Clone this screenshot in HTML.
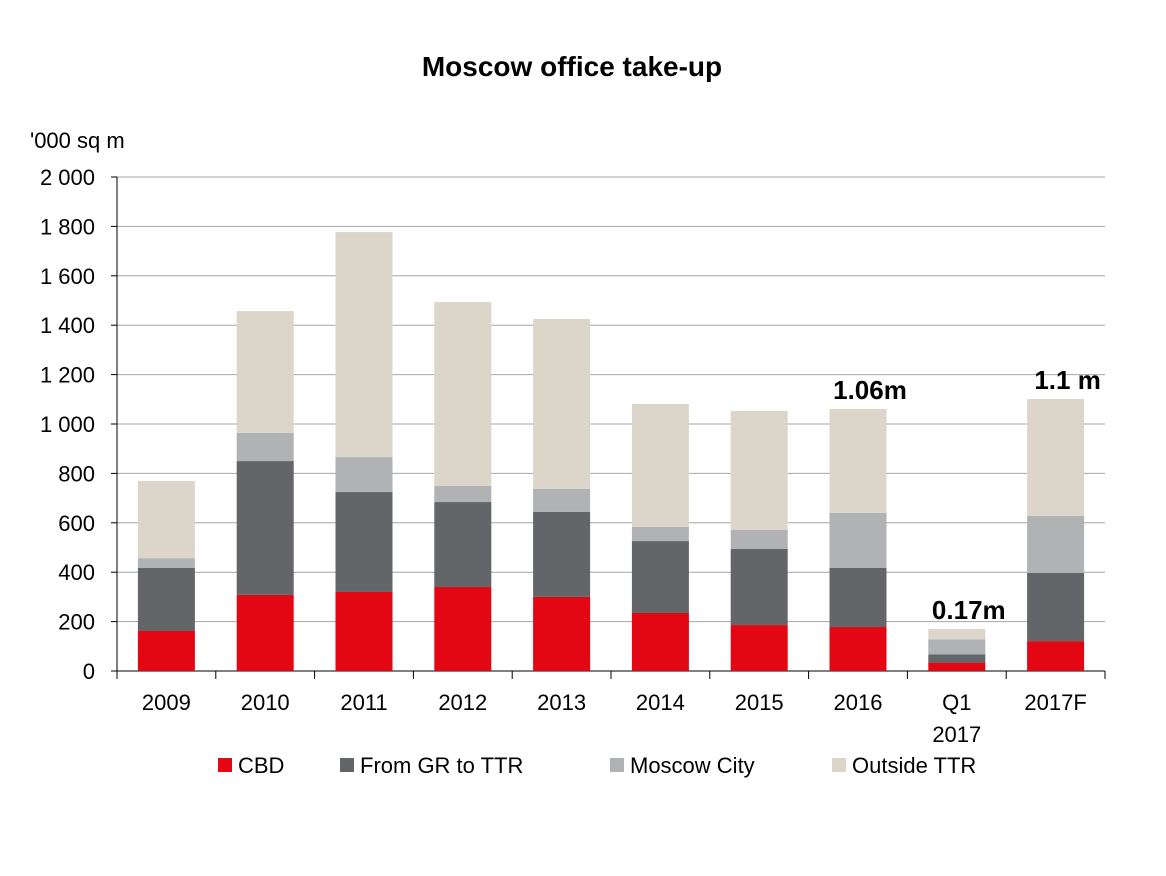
<!DOCTYPE html>
<html><head><meta charset="utf-8"><style>
html,body{margin:0;padding:0;background:#fff;}
svg text{font-family:"Liberation Sans",Arial,sans-serif;}
</style></head><body>
<svg width="1166" height="871" viewBox="0 0 1166 871" xmlns="http://www.w3.org/2000/svg">
<text x="572" y="76" text-anchor="middle" font-size="28" font-weight="bold">Moscow office take-up</text>
<text x="30" y="148" font-size="22">'000 sq m</text>
<g id="grid"></g>
<g id="yt"></g>
<g id="bars"></g>
<g id="xt"></g>
<g id="ann"></g>
<g id="legend"></g>
</svg>
<script>
const categories=["2009","2010","2011","2012","2013","2014","2015","2016","Q1|2017","2017F"];
const cbd=[162,308,320,340,300,235,186,178,34,121];
const grTtr=[255,542,405,344,344,291,308,239,33,276];
const moscowCity=[40,114,141,65,93,57,77,223,61,231];
const outsideTtr=[312,493,911,745,688,498,482,421,42,473];
const yTicks=[0,200,400,600,800,1000,1200,1400,1600,1800,2000];
const yTickLabels=["0","200","400","600","800","1 000","1 200","1 400","1 600","1 800","2 000"];
const annotations=[{i:7,t:"1.06m"},{i:8,t:"0.17m"},{i:9,t:"1.1 m"}];
const series=[cbd,grTtr,moscowCity,outsideTtr];
const names=["CBD","From GR  to TTR","Moscow City","Outside TTR"];
const colors=["#e30613","#646569","#b1b2b4","#dcd6ca"];
const NS="http://www.w3.org/2000/svg";
const x0=117,x1=1105,y0=671,yTop=177,ymax=2000;
const bw=(x1-x0)/categories.length;
const Y=v=>y0-(v/ymax)*(y0-yTop);
const X=i=>x0+bw*i+bw/2;
function mk(tag,attrs,parent){const e=document.createElementNS(NS,tag);for(const k in attrs)e.setAttribute(k,attrs[k]);parent.appendChild(e);return e;}
const grid=document.getElementById('grid'),yt=document.getElementById('yt');
yTicks.forEach((v,k)=>{
  if(v>0){const l=mk('line',{x1:x0,x2:x1,y1:Y(v),y2:Y(v),stroke:'#a6a6a6','stroke-width':1},grid);
  
  }
  const tk=mk('line',{x1:x0-6,x2:x0,y1:Y(v),y2:Y(v),stroke:'#000'},grid);
  
  
  const t=mk('text',{x:x0-22,y:Y(v)+8,'text-anchor':'end','font-size':22},yt);
  t.textContent=yTickLabels[k];
  
  
});
mk('line',{x1:x0,x2:x0,y1:yTop,y2:y0,stroke:'#000'},grid);
mk('line',{x1:x0,x2:x1,y1:y0,y2:y0,stroke:'#000'},grid);
const bars=document.getElementById('bars'),xt=document.getElementById('xt');
categories.forEach((c,i)=>{
  let acc=0;
  series.forEach((s,k)=>{
    const r=mk('rect',{x:X(i)-28.5,width:57,y:Y(acc+s[i]),height:Y(acc)-Y(acc+s[i]),fill:colors[k]},bars);
    
    
    acc+=s[i];
  });
  const tk=mk('line',{x1:x0+bw*(i+1),x2:x0+bw*(i+1),y1:y0,y2:y0+8,stroke:'#000'},xt);
  
  
  c.split('|').forEach((p,j)=>{
    const t=mk('text',{x:X(i),y:710+j*32,'text-anchor':'middle','font-size':22},xt);
    t.textContent=p;
    
    
  });
});
mk('line',{x1:x0,x2:x0,y1:y0,y2:y0+8,stroke:'#000'},xt);
const ann=document.getElementById('ann');
annotations.forEach(a=>{
  let tot=0;series.forEach(s=>tot+=s[a.i]);
  const t=mk('text',{x:X(a.i)+12,y:Y(tot)-10,'text-anchor':'middle','font-size':26,'font-weight':'bold'},ann);
  t.textContent=a.t;
  
  
});
const lg=document.getElementById('legend');
const lx=[218,340,610,832];
names.forEach((n,k)=>{
  const r=mk('rect',{x:lx[k],y:758,width:14,height:14,fill:colors[k]},lg);
  
  
  const t=mk('text',{x:lx[k]+20,y:773,'font-size':22},lg);
  t.textContent=n;
  
  
});
</script>
</body></html>
